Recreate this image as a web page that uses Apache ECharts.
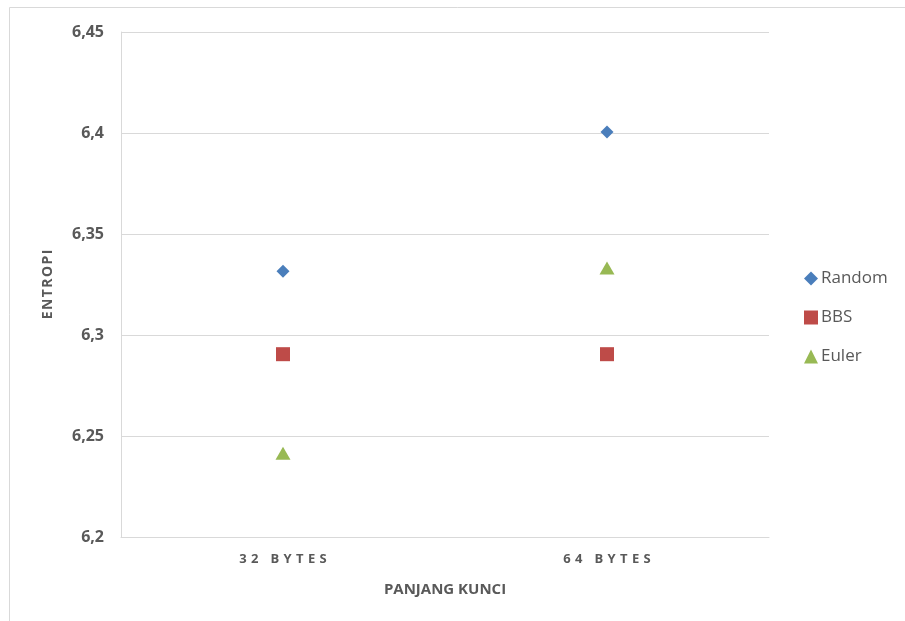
<!DOCTYPE html>
<html><head><meta charset="utf-8">
<script src="https://cdn.jsdelivr.net/npm/echarts@6/dist/echarts.min.js"></script>
<style>html,body{margin:0;padding:0;background:#fff}#c{width:905px;height:621px}</style>
</head><body><div id="c"></div>
<script>
const categories = ['32 BYTES', '64 BYTES'];
const randomVals = [6.3315, 6.4005];
const bbsVals = [6.2905, 6.2905];
const eulerVals = [6.2415, 6.3332];
const yTicks = [6.2, 6.25, 6.3, 6.35, 6.4, 6.45];

const chart = echarts.init(document.getElementById('c'), null, {renderer: 'canvas'});
const labelColor = '#595959';
const fontFam = '"Open Sans", "Noto Sans", sans-serif';
chart.setOption({
  animation: false,
  backgroundColor: '#fff',
  graphic: [{
    type: 'rect', shape: {x: 9.5, y: 7.5, width: 905, height: 625},
    style: {fill: 'none', stroke: '#d9d9d9', lineWidth: 1}, silent: true, z: -1
  }],
  grid: {left: 121, top: 32, width: 648, height: 505},
  legend: {
    orient: 'vertical', left: 799, top: 262, itemGap: 16, itemWidth: 14, itemHeight: 14,
    textStyle: {color: labelColor, fontSize: 17, fontFamily: fontFam, padding: [0,0,0,-2], lineHeight: 23},
    data: [
      {name: 'Random', icon: 'diamond'},
      {name: 'BBS', icon: 'rect'},
      {name: 'Euler', icon: 'triangle'}
    ]
  },
  xAxis: {
    type: 'category', data: categories, boundaryGap: true,
    name: 'PANJANG KUNCI', nameLocation: 'middle', nameGap: 45,
    nameTextStyle: {color: labelColor, fontSize: 15, fontWeight: 'bold', fontFamily: fontFam},
    axisLine: {lineStyle: {color: '#d9d9d9'}},
    axisTick: {show: false},
    axisLabel: {color: labelColor, fontSize: 13, fontWeight: 'bold', fontFamily: fontFam, margin: 16,
      formatter: v => v.split('').join('\u2009\u2009')},
    splitLine: {show: false}
  },
  yAxis: {
    type: 'value', min: 6.2, max: 6.45, interval: 0.05,
    name: 'E\u200aN\u200aT\u200aR\u200aO\u200aP\u200aI', nameLocation: 'middle', nameGap: 66, nameRotate: 90,
    nameTextStyle: {color: labelColor, fontSize: 14, fontWeight: 'bold', fontFamily: fontFam},
    axisLine: {show: true, lineStyle: {color: '#d9d9d9'}},
    axisTick: {show: false},
    axisLabel: {color: labelColor, fontSize: 16, fontWeight: 'bold', fontFamily: fontFam, margin: 17,
      formatter: v => {
        const t = yTicks.find(x => Math.abs(x - v) < 1e-9);
        return String(t !== undefined ? t : v).replace('.', ',');
      }},
    splitLine: {lineStyle: {color: '#d9d9d9'}}
  },
  series: [
    {name: 'Random', type: 'scatter', data: randomVals, symbol: 'diamond', symbolSize: 13,
      itemStyle: {color: '#4a7ebb', opacity: 1}},
    {name: 'BBS', type: 'scatter', data: bbsVals, symbol: 'rect', symbolSize: 14,
      itemStyle: {color: '#be4b48', opacity: 1}},
    {name: 'Euler', type: 'scatter', data: eulerVals, symbol: 'triangle', symbolSize: [15, 13],
      itemStyle: {color: '#98b954', opacity: 1}}
  ]
});
</script></body></html>
